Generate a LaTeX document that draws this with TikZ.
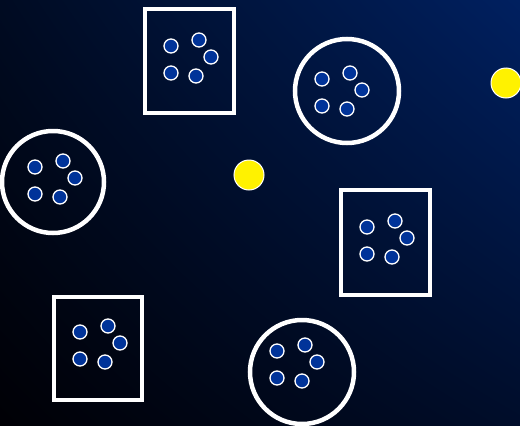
\documentclass[tikz,border=0pt]{standalone}
\usetikzlibrary{shadings}
\definecolor{bgTL}{RGB}{0,11,34}
\definecolor{bgTR}{RGB}{0,32,96}
\definecolor{bgBL}{RGB}{0,0,5}
\definecolor{bgBR}{RGB}{0,13,42}
\definecolor{dotblue}{RGB}{0,51,153}
\tikzset{
  frame/.style={draw=white, line width=4.5pt},
  small/.style={circle, draw=white, fill=dotblue, line width=1.3pt, minimum size=14pt, inner sep=0pt},
  sun/.style={circle, draw=white, fill=yellow, line width=1pt, minimum size=30pt, inner sep=0pt},
}
\newcommand{\cluster}[3]{%
  \node[small] (#1a) at (#2,#3) {};
  \node[small] (#1b) at (#2+28,#3-6) {};
  \node[small] (#1c) at (#2+40,#3+11) {};
  \node[small] (#1d) at (#2,#3+27) {};
  \node[small] (#1e) at (#2+25,#3+30) {};
}
\begin{document}
\begin{tikzpicture}[x=1pt,y=-1pt]
\useasboundingbox (0,0) rectangle (520,426);
\shade[upper left=bgTL, upper right=bgTR, lower left=bgBL, lower right=bgBR] (0,426) rectangle (520,0);
% frames
\draw[frame] (145,9) rectangle (234,113);
\draw[frame] (347,91) circle (52);
\draw[frame] (53,182) circle (51);
\draw[frame] (341,190) rectangle (430,295);
\draw[frame] (54,297) rectangle (142,400);
\draw[frame] (302,372) circle (52);
% clusters
\cluster{p}{171}{46}
\cluster{q}{322}{79}
\cluster{r}{35}{167}
\cluster{s}{367}{227}
\cluster{t}{80}{332}
\cluster{u}{277}{351}
% yellow
\node[sun] (y1) at (249,175) {};
\node[sun] (y2) at (506,83) {};
\end{tikzpicture}
\end{document}
